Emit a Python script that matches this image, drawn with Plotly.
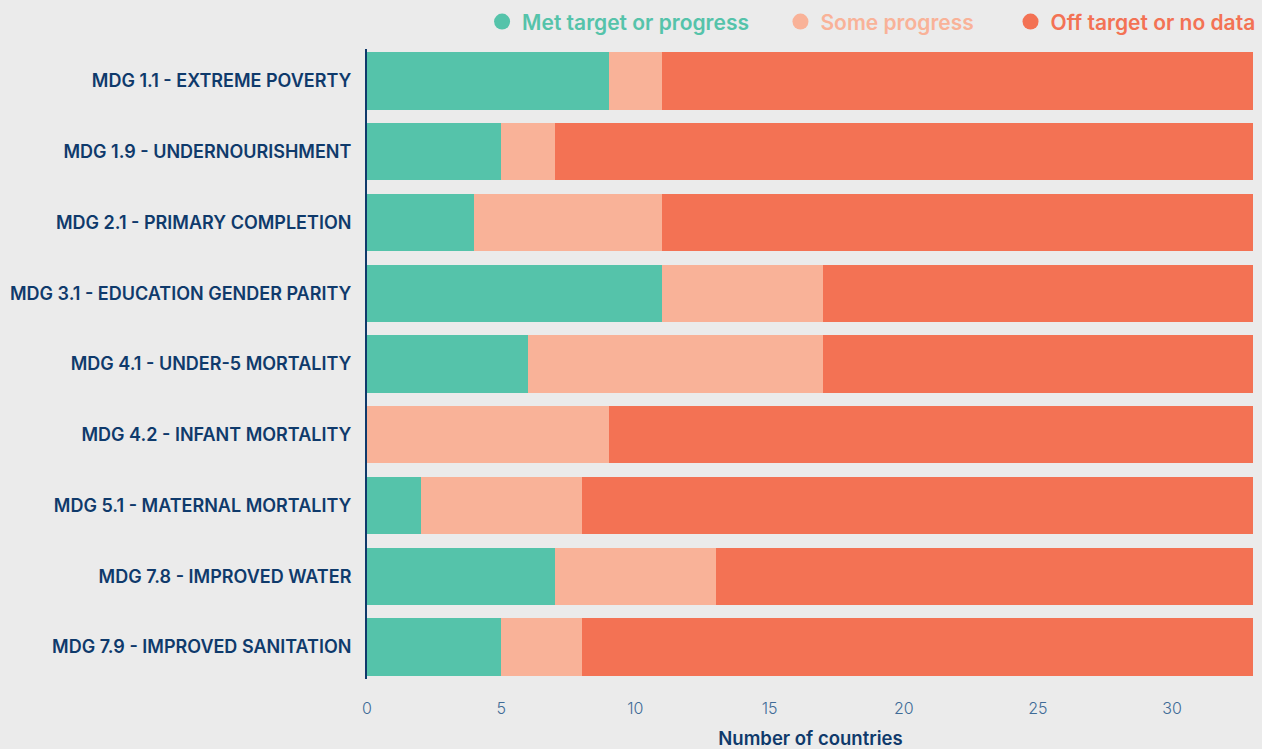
import plotly.graph_objects as go

categories = [
    "MDG 1.1 - EXTREME POVERTY",
    "MDG 1.9 - UNDERNOURISHMENT",
    "MDG 2.1 - PRIMARY COMPLETION",
    "MDG 3.1 - EDUCATION GENDER PARITY",
    "MDG 4.1 - UNDER-5 MORTALITY",
    "MDG 4.2 - INFANT MORTALITY",
    "MDG 5.1 - MATERNAL MORTALITY",
    "MDG 7.8 - IMPROVED WATER",
    "MDG 7.9 - IMPROVED SANITATION",
]
met = [9, 5, 4, 11, 6, 0, 2, 7, 5]
some = [2, 2, 7, 6, 11, 9, 6, 6, 3]
off = [22, 26, 22, 16, 16, 24, 25, 20, 25]

series_names = ["Met target or progress", "Some progress", "Off target or no data"]
colors = ["#55C3AA", "#F9B298", "#F37254"]

BG = "#EBEBEB"
NAVY = "#0F3A6B"
TICK = "#3F6B97"

fig = go.Figure()
for name, vals, col in zip(series_names, [met, some, off], colors):
    fig.add_trace(go.Bar(
        y=categories, x=vals, orientation="h", name=name,
        marker=dict(color=col, line=dict(width=0)), showlegend=False,
    ))
pads = ["\u00a0" * 5, "\u00a0" * 6, ""]
for name, col, pad in zip(series_names, colors, pads):
    fig.add_trace(go.Scatter(
        x=[None], y=[None], mode="markers",
        name=f"<span style='color:{col}'>{name}</span>{pad}",
        marker=dict(color=col, size=22, symbol="circle"), showlegend=True,
    ))

fig.update_layout(
    barmode="stack",
    bargap=0.19,
    width=1262, height=749,
    paper_bgcolor=BG, plot_bgcolor=BG,
    margin=dict(l=367, r=8, t=49, b=70, autoexpand=False),
    font=dict(family="Inter, Roboto, sans-serif", color=NAVY),
    legend=dict(
        orientation="h", x=1.008, xanchor="right", y=1.043, yanchor="middle",
        font=dict(size=21, weight=600), bgcolor="rgba(0,0,0,0)", itemsizing="trace",
        traceorder="normal",
    ),
    xaxis=dict(
        range=[0, 33.05], tickvals=[0, 5, 10, 15, 20, 25, 30],
        showgrid=False, zeroline=False, showline=False, automargin=False,
        tickfont=dict(size=16, color=TICK, weight=300), ticks="", ticklabelstandoff=18,
        title=dict(text="Number of countries", font=dict(size=18.5, color=NAVY, weight=600), standoff=20),
    ),
    yaxis=dict(
        autorange=False, range=[8.45, -0.45], automargin=False,
        categoryorder="array", categoryarray=categories,
        showgrid=False, zeroline=False, showline=True, linecolor=NAVY, linewidth=2,
        tickfont=dict(size=18, color=NAVY, weight=600), ticks="", ticklabelstandoff=10,
    ),
)

fig.write_html(
    "out.html",
    config={"displayModeBar": False},
    post_script="document.body.style.margin='0';document.body.style.background='#EBEBEB';",
)
